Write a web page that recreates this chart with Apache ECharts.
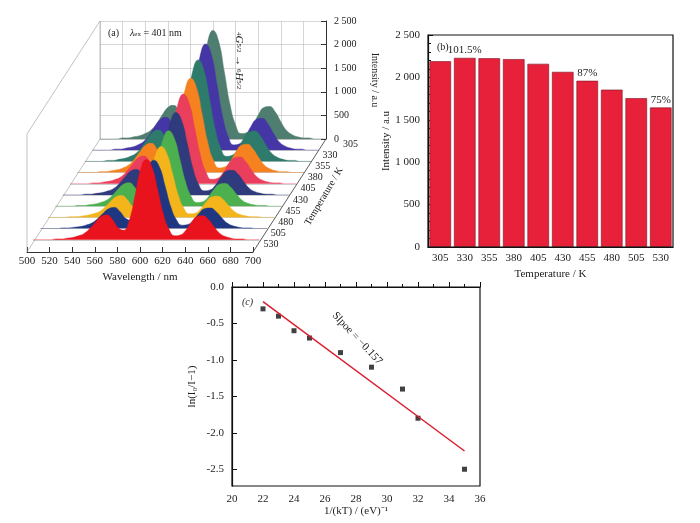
<!DOCTYPE html><html><head><meta charset="utf-8">
<script src="https://cdn.jsdelivr.net/npm/echarts@6/dist/echarts.min.js"></script>
<style>html,body{margin:0;background:#fff}#c{width:700px;height:523px}</style></head><body><div id="c"></div>
<script>
const wavelengths=[500,505,510,515,520,525,530,535,540,545,550,555,560,565,570,575,580,585,590,595,600,605,610,615,620,625,630,635,640,645,650,655,660,665,670,675,680,685,690,695,700];
const spectrumShape=[0,0,0,0,0.01,0.01,0.02,0.03,0.05,0.08,0.14,0.22,0.29,0.31,0.25,0.15,0.12,0.25,0.55,0.88,1.0,0.9,0.62,0.32,0.13,0.05,0.06,0.12,0.22,0.29,0.3,0.25,0.16,0.08,0.04,0.02,0.01,0.01,0,0,0];
const temps=['305','330','355','380','405','430','455','480','505','530'];
const peakIntensity=[2300,2250,2150,2000,1900,1750,1600,1500,1450,1700];
const rowColors=['#4f7d70','#4536a6','#2e7b6c','#f5821f','#ea3f5c','#2f3b7c','#4db04e','#f4b41c','#1f3682','#e8131c'];
const barValues=[2190,2230,2225,2215,2160,2065,1960,1855,1755,1645];
const barLabels=['','101.5%','','','','','87%','','','75%'];
const invKT=[22,23,24,25,27,29,31,32,35];
const lnVals=[-0.3,-0.4,-0.6,-0.7,-0.9,-1.1,-1.4,-1.8,-2.5];
const fitLine=[[22,-0.2],[35,-2.25]];
const F='Liberation Serif';
const fmt=v=>v>=1000?String(v).replace(/(\d)(\d{3})$/,'$1 $2'):v;
const grid=[],xAxis=[],yAxis=[],series=[];
temps.forEach((t,i)=>{
  const x0=100-i*7.4, base=139+i*11.2;
  grid.push({left:x0,top:base-118,width:226,height:118,z:2+i});
  const back=i===0;
  xAxis.push({gridIndex:i,type:'value',min:500,max:700,interval:20,
    axisLine:{show:true,lineStyle:{color:'#aaa',width:0.6}},axisTick:{show:false},axisLabel:{show:false},
    splitLine:{show:back,lineStyle:{color:'#bbb',width:0.6}},
    name:t,nameLocation:'end',nameGap:4,nameTextStyle:{fontFamily:F,fontSize:10,color:'#222',verticalAlign:'top'}});
  yAxis.push({gridIndex:i,type:'value',min:0,max:2500,interval:500,position:'right',
    axisLine:{show:back,lineStyle:{color:'#333'}},axisTick:{show:back,inside:true},
    axisLabel:{show:back,fontFamily:F,fontSize:10,color:'#222',formatter:fmt},
    splitLine:{show:back,lineStyle:{color:'#bbb',width:0.6}},
    name:back?'Intensity / a.u':'',nameLocation:'middle',nameGap:44,nameRotate:-90,nameTextStyle:{fontFamily:F,fontSize:10,color:'#222'}});
  series.push({type:'line',xAxisIndex:i,yAxisIndex:i,z:2+i,showSymbol:false,smooth:true,
    data:wavelengths.map((w,k)=>[w,spectrumShape[k]*peakIntensity[i]]),
    lineStyle:{width:0.5,color:rowColors[i]},areaStyle:{color:rowColors[i],opacity:1}});
});
grid.push({left:27,top:251,width:226,height:1});
xAxis.push({gridIndex:10,type:'value',min:500,max:700,interval:20,axisLine:{lineStyle:{color:'#333'}},axisTick:{inside:true},
  axisLabel:{fontFamily:F,fontSize:11,color:'#222',margin:4},splitLine:{show:false},
  name:'Wavelength / nm',nameLocation:'middle',nameGap:20,nameTextStyle:{fontFamily:F,fontSize:11,color:'#222'}});
yAxis.push({gridIndex:10,type:'value',show:false});
grid.push({left:428,top:35,width:245,height:212});
xAxis.push({gridIndex:11,type:'category',data:temps,axisLine:{lineStyle:{color:'#111',width:1.2}},axisTick:{show:false},
  axisLabel:{fontFamily:F,fontSize:11,color:'#222',margin:6},name:'Temperature / K',nameLocation:'middle',nameGap:22,nameTextStyle:{fontFamily:F,fontSize:11,color:'#222'}});
yAxis.push({gridIndex:11,type:'value',min:0,max:2500,interval:500,axisLine:{show:true,lineStyle:{color:'#111',width:1.2}},axisTick:{show:true,inside:true},
  minorTick:{show:true},splitLine:{show:false},axisLabel:{fontFamily:F,fontSize:11,color:'#222',formatter:fmt},
  name:'Intensity / a.u',nameLocation:'middle',nameGap:36,nameTextStyle:{fontFamily:F,fontSize:11,color:'#222'}});
series.push({type:'bar',xAxisIndex:11,yAxisIndex:11,barCategoryGap:'12%',data:barValues.map((v,i)=>({value:v,label:{show:!!barLabels[i],formatter:barLabels[i]}})),
  itemStyle:{color:'#e8213a',borderColor:'#7a1020',borderWidth:0.6},label:{position:'top',fontFamily:F,fontSize:11,color:'#222',distance:2}});
grid.push({left:232,top:287,width:248,height:199});
xAxis.push({gridIndex:12,type:'value',min:20,max:36,interval:2,axisLine:{lineStyle:{color:'#111',width:1.2}},axisTick:{inside:true},minorTick:{show:true,splitNumber:2},
  splitLine:{show:false},axisLabel:{fontFamily:F,fontSize:11,color:'#222'},
  name:'1/(kT) / (eV)⁻¹',nameLocation:'middle',nameGap:20,nameTextStyle:{fontFamily:F,fontSize:11,color:'#222'}});
yAxis.push({gridIndex:12,type:'value',min:-2.73,max:0,axisLine:{show:true,lineStyle:{color:'#111',width:1.2}},
  axisTick:{inside:true,customValues:[0,-0.5,-1,-1.5,-2,-2.5]},splitLine:{show:false},
  axisLabel:{customValues:[0,-0.5,-1,-1.5,-2,-2.5],fontFamily:F,fontSize:11,color:'#222',formatter:v=>v.toFixed(1)},
  name:'ln(I₀/I−1)',nameLocation:'middle',nameGap:34,nameTextStyle:{fontFamily:F,fontSize:11,color:'#222'}});
series.push({type:'line',xAxisIndex:12,yAxisIndex:12,data:fitLine,showSymbol:false,lineStyle:{color:'#d92030',width:1.5}});
series.push({type:'scatter',xAxisIndex:12,yAxisIndex:12,data:invKT.map((x,i)=>[x,lnVals[i]]),symbol:'rect',symbolSize:5,itemStyle:{color:'#111'}});
const boxes=[[428,35,245,212],[232,287,248,199]].map(b=>({type:'rect',shape:{x:b[0],y:b[1],width:b[2],height:b[3]},style:{fill:null,stroke:'#111',lineWidth:1.2},z:10}));
const T=(x,y,t,o)=>Object.assign({type:'text',x,y,z:20,style:{text:t,font:'11px '+F,fill:'#222'}},o||{});
const chart=echarts.init(document.getElementById('c'));
chart.setOption({animation:false,grid,xAxis,yAxis,series,graphic:[...boxes,
  {type:'polyline',shape:{points:[[27,252],[100,139],[100,21],[27,134],[27,252]]},style:{fill:null,stroke:'#999',lineWidth:0.6},z:1},
  {type:'polyline',shape:{points:[[253,252],[326,139]]},style:{fill:null,stroke:'#333',lineWidth:0.8},z:1},
  T(108,28,'(a)',{style:{text:'(a)',font:'10px '+F,fill:'#222'}}),
  T(130,28,'',{style:{rich:{a:{font:'italic 10px '+F,fill:'#222'},s:{font:'7px '+F,fill:'#222',verticalAlign:'bottom'},n:{font:'10px '+F,fill:'#222'}},text:'{a|λ}{s|ex}{n| = 401 nm}'}}),
  T(244,32,'',{rotation:-Math.PI/2,style:{rich:{a:{font:'italic 11px '+F,fill:'#222'},s:{font:'7px '+F,fill:'#222'}},text:'{s|4}{a|G}{s|5/2}{a| → }{s|6}{a|H}{s|5/2}'}}),
  T(303,222,'Temperature / K',{rotation:Math.PI*0.33,style:{text:'Temperature / K',font:'10px '+F,fill:'#222'}}),
  T(437,42,'(b)',{style:{text:'(b)',font:'10px '+F,fill:'#222'}}),
  T(242,297,'(c)',{style:{text:'(c)',font:'italic 10px '+F,fill:'#222'}}),
  T(338,310,'Slpoe = −0.157',{rotation:-Math.PI*0.26,style:{text:'Slpoe = −0.157',font:'11px '+F,fill:'#222'}})
]});
</script></body></html>
